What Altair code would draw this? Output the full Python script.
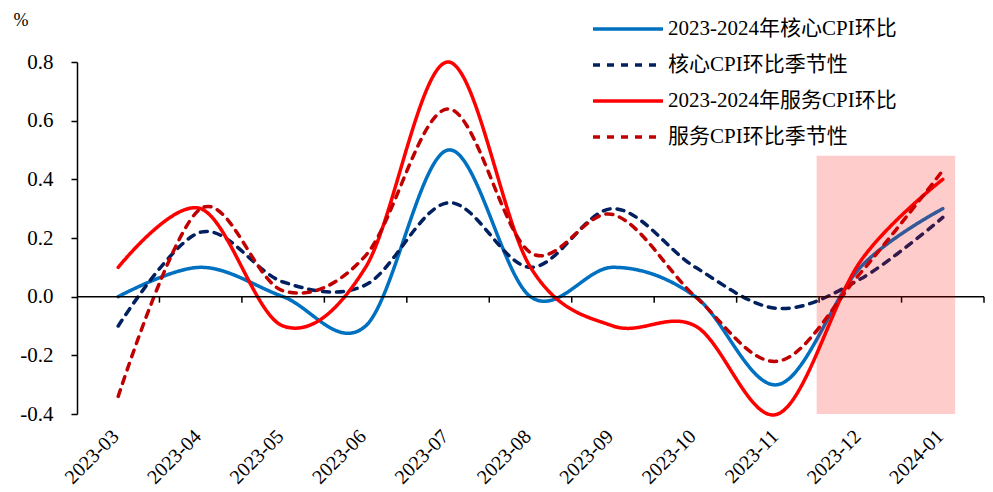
import altair as alt
import pandas as pd

# Months on the x axis
months = ["2023-03", "2023-04", "2023-05", "2023-06", "2023-07", "2023-08",
          "2023-09", "2023-10", "2023-11", "2023-12", "2024-01"]

# Series names (legend order)
series = ["2023-2024年核心CPI环比", "核心CPI环比季节性",
          "2023-2024年服务CPI环比", "服务CPI环比季节性"]

# Month-on-month values, %
core_mom = [0.0, 0.1, 0.0, -0.1, 0.5, 0.0, 0.1, 0.0, -0.3, 0.1, 0.3]
core_seasonal = [-0.1, 0.22, 0.05, 0.04, 0.32, 0.1, 0.3, 0.1, -0.04, 0.06, 0.27]
service_mom = [0.1, 0.3, -0.1, 0.1, 0.8, 0.1, -0.1, -0.1, -0.4, 0.12, 0.4]
service_seasonal = [-0.34, 0.3, 0.02, 0.14, 0.64, 0.15, 0.28, 0.0, -0.22, 0.08, 0.43]

colors = ["#0070C0", "#002060", "#FF0000", "#C00000"]
dashes = [[1, 0], [7, 7], [1, 0], [7, 7]]

# Highlighted window (in month-slot units) and its value range
shade_start = [8.97]
shade_end = [10.65]
shade_top = [0.48]
shade_bottom = [-0.4]

W, H = 907, 352
FONT = "'Liberation Serif', 'Times New Roman', 'Noto Sans CJK SC', serif"

rows = []
for name, vals in zip(series, [core_mom, core_seasonal, service_mom, service_seasonal]):
    for i, v in enumerate(vals):
        rows.append({"series": name, "pos": i + 0.5, "value": v})
df = pd.DataFrame(rows)

label_array = "[" + ",".join(f"'{m}'" for m in months) + "]"

x_scale = alt.Scale(domain=[0, len(months)], nice=False, zero=False)
y_scale = alt.Scale(domain=[-0.4, 0.8], nice=False, zero=False)

# Month labels under the plot, centred in each month slot
x_axis = alt.Axis(values=[i + 0.5 for i in range(len(months))],
                  labelExpr=f"{label_array}[floor(datum.value)]",
                  labelAngle=-45, labelAlign="right", labelBaseline="middle",
                  labelPadding=19, labelOffset=-3, ticks=False, domain=False, grid=False,
                  labelFont=FONT, labelFontSize=20, labelColor="black",
                  title=None)

y_axis = alt.Axis(values=[-0.4, -0.2, 0.0, 0.2, 0.4, 0.6, 0.8],
                  labelExpr="replace(format(datum.value, '.1f'), '\u2212', '-')",
                  grid=False, domain=True, domainColor="black", domainWidth=1.5,
                  ticks=True, tickColor="black", tickWidth=1.5, tickSize=6,
                  labelPadding=18, labelFont=FONT, labelFontSize=21,
                  labelColor="black",
                  title="%", titleAngle=0, titleAlign="left",
                  titleBaseline="alphabetic", titleX=-64, titleY=-37,
                  titleFont=FONT, titleFontSize=18, titleFontWeight="normal",
                  titleColor="black")

lines = alt.Chart(df).mark_line(
    interpolate="cardinal", strokeWidth=3.5, strokeCap="round"
).encode(
    x=alt.X("pos:Q", scale=x_scale, axis=x_axis),
    y=alt.Y("value:Q", scale=y_scale, axis=y_axis),
    color=alt.Color("series:N", scale=alt.Scale(domain=series, range=colors),
                    legend=alt.Legend(title=None, orient="none", legendX=514, legendY=-45,
                                      symbolType="stroke", symbolSize=4900,
                                      symbolStrokeWidth=3.5, clipHeight=24,
                                      labelFont=FONT, labelFontSize=21, labelColor="black",
                                      labelLimit=0, labelOffset=3, rowPadding=12,
                                      padding=0)),
    strokeDash=alt.StrokeDash("series:N", scale=alt.Scale(domain=series, range=dashes),
                              legend=None),
    order=alt.Order("series:N"),
)

# Horizontal zero line
zero_df = pd.DataFrame({"a": [0], "b": [len(months)], "v": [0.0]})
zero_line = alt.Chart(zero_df).mark_rule(color="black", strokeWidth=1.5).encode(
    x=alt.X("a:Q", scale=x_scale, axis=x_axis), x2="b:Q",
    y=alt.Y("v:Q", scale=y_scale, axis=y_axis)
)

# Category boundary ticks hanging below the zero line
tick_df = pd.DataFrame({"pos": list(range(1, len(months) + 1)), "v": [0.0] * len(months)})
zero_ticks = alt.Chart(tick_df).mark_rule(color="black", strokeWidth=1.5, y2Offset=6).encode(
    x=alt.X("pos:Q", scale=x_scale, axis=x_axis),
    y=alt.Y("v:Q", scale=y_scale, axis=y_axis), y2="v:Q"
)

# Translucent highlight over the last months
shade_df = pd.DataFrame({"x0": shade_start, "x1": shade_end,
                         "y0": shade_bottom, "y1": shade_top})
shade = alt.Chart(shade_df).mark_rect(color="#FF0000", opacity=0.2).encode(
    x=alt.X("x0:Q", scale=x_scale, axis=x_axis), x2="x1:Q",
    y=alt.Y("y0:Q", scale=y_scale, axis=y_axis), y2="y1:Q"
)

chart = alt.layer(lines, zero_line, zero_ticks, shade).properties(
    width=W, height=H,
    autosize=alt.AutoSizeParams(type="none"),
    padding={"left": 77, "top": 62, "right": 9, "bottom": 78},
    background="white",
).configure(font=FONT).configure_view(stroke=None).configure_axis(labelOverlap=False)

chart.save("out.html", embed_options={"renderer": "svg", "actions": False})
